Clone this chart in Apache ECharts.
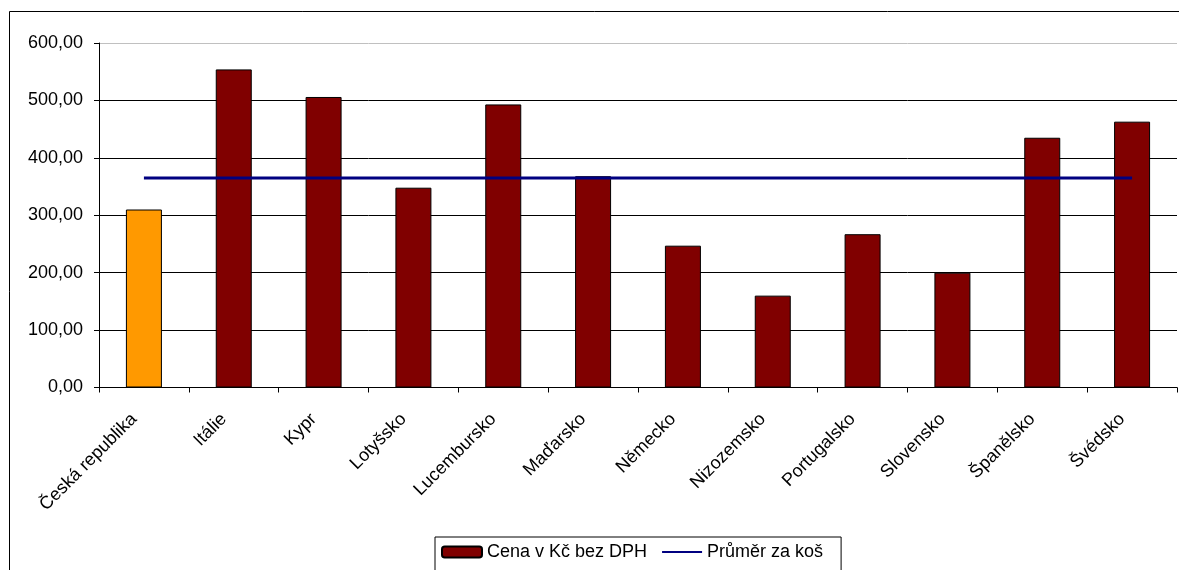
<!DOCTYPE html>
<html>
<head>
<meta charset="utf-8">
<script src="https://cdn.jsdelivr.net/npm/echarts@6/dist/echarts.min.js"></script>
<style>
html,body{margin:0;padding:0;background:#fff;}
#chart{width:1179px;height:570px;}
</style>
</head>
<body>
<div id="chart"></div>
<script>
const categories = ['Česká republika','Itálie','Kypr','Lotyšsko','Lucembursko','Maďarsko','Německo','Nizozemsko','Portugalsko','Slovensko','Španělsko','Švédsko'];
const prices = [310, 554, 506, 348, 493, 368, 247, 160, 267, 200, 435, 463];
const averageValue = 365;
const averages = categories.map(() => averageValue);
const yTicks = [0, 100, 200, 300, 400, 500, 600];
const highlightIndex = 0;

const FONT = "'Liberation Sans', Arial, sans-serif";
const chart = echarts.init(document.getElementById('chart'), null, {renderer: 'canvas'});

chart.setOption({
  animation: false,
  backgroundColor: '#fff',
  textStyle: {fontFamily: FONT, color: '#000'},
  graphic: [{
    type: 'rect',
    shape: {x: 9.5, y: 11.5, width: 1200, height: 600},
    style: {fill: 'none', stroke: '#000', lineWidth: 1},
    silent: true, z: -10
  }],
  grid: {left: 99, right: 2, top: 43, bottom: 182.5, containLabel: false},
  legend: {
    left: 435, top: 537,
    padding: [6, 18, 12, 6],
    borderColor: '#000', borderWidth: 1,
    itemWidth: 40, itemHeight: 11, itemGap: 14,
    textStyle: {fontFamily: FONT, fontSize: 18, color: '#000'},
    data: [
      {name: 'Cena v Kč bez DPH'},
      {name: 'Průměr za koš', itemStyle: {color: 'rgba(0,0,0,0)', borderWidth: 0, opacity: 0}}
    ]
  },
  xAxis: {
    type: 'category',
    data: categories,
    boundaryGap: true,
    axisLine: {show: true, lineStyle: {color: '#000', width: 1}},
    axisTick: {show: true, length: 5, lineStyle: {color: '#000'}},
    axisLabel: {rotate: 45, fontSize: 18, color: '#000', fontFamily: FONT, margin: 19, padding: [0, 14, 0, 0], interval: 0},
    splitLine: {show: false}
  },
  yAxis: {
    type: 'value',
    min: yTicks[0], max: yTicks[yTicks.length - 1], interval: 100,
    axisLine: {show: true, lineStyle: {color: '#000', width: 1}},
    axisTick: {show: true, length: 5, lineStyle: {color: '#000'}},
    axisLabel: {
      fontSize: 18, color: '#000', fontFamily: FONT, margin: 16,
      formatter: v => v.toFixed(2).replace('.', ',')
    },
    splitLine: {show: true, lineStyle: {color: ['#000','#000','#000','#000','#000','#000','#c0c0c0'], width: 1}}
  },
  series: [{
    name: 'Cena v Kč bez DPH',
    type: 'bar',
    barWidth: 36,
    itemStyle: {color: '#800000', borderColor: '#000', borderWidth: 1},
    data: prices.map((v, i) => i === highlightIndex
      ? {value: v, itemStyle: {color: '#FF9900', borderColor: '#000', borderWidth: 1}}
      : v)
  }, {
    name: 'Průměr za koš',
    type: 'line',
    data: averages,
    symbol: 'none',
    lineStyle: {color: '#000080', width: 3},
    itemStyle: {color: '#000080'},
    z: 5
  }]
});
</script>
</body>
</html>
